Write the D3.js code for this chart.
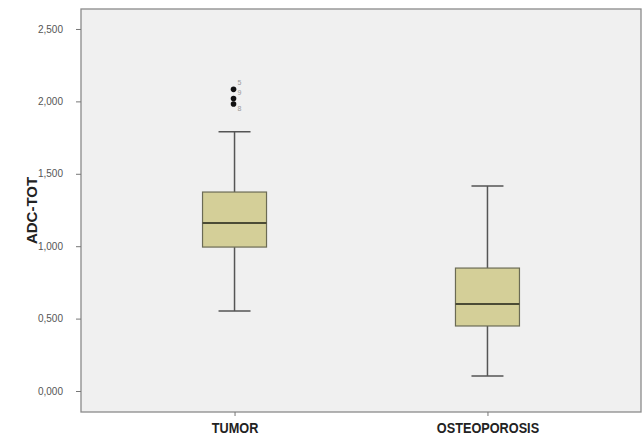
<!DOCTYPE html>
<html>
<head>
<meta charset="utf-8">
<script src="https://cdn.jsdelivr.net/npm/d3@7"></script>
<style>
  body { margin: 0; background: #fff; }
  svg { display: block; }
</style>
</head>
<body>
<svg id="chart" width="642" height="437"></svg>
<script>
// groups and box stats
const groups = ["TUMOR", "OSTEOPOROSIS"];
const lowWhisker = [0.552, 0.104];
const q1 = [0.994, 0.449];
const medians = [1.160, 0.601];
const q3 = [1.374, 0.849];
const highWhisker = [1.790, 1.416];
// outliers of the TUMOR group, with case labels
const outlierValues = [2.083, 2.020, 1.982];
const outlierLabels = ["5", "9", "8"];
const outlierGroup = ["TUMOR", "TUMOR", "TUMOR"];
const yTicks = [0, 0.5, 1.0, 1.5, 2.0, 2.5];

const svg = d3.select("#chart");
const margin = {top: 9, right: 1, bottom: 25, left: 81};
const W = 642, H = 437;

const x = d3.scalePoint()
  .domain(groups)
  .range([margin.left, W - margin.right])
  .padding(0.607);

const y = d3.scaleLinear()
  .domain([-0.145, 2.638])
  .range([H - margin.bottom, margin.top]);

const fmt = v => d3.format(".3f")(v).replace(".", ",");

// plot background
svg.append("rect")
  .attr("x", margin.left).attr("y", margin.top)
  .attr("width", W - margin.right - margin.left)
  .attr("height", H - margin.bottom - margin.top)
  .attr("fill", "#f0f0f0")
  .attr("stroke", "#8a8a8a")
  .attr("stroke-width", 1.3);

// y axis
const yAxis = svg.append("g")
  .attr("transform", `translate(${margin.left},0)`)
  .call(d3.axisLeft(y).tickValues(yTicks).tickFormat(fmt).tickSize(5).tickPadding(13));
yAxis.select(".domain").remove();
yAxis.selectAll(".tick line").attr("stroke", "#777");
yAxis.selectAll("text")
  .attr("font-family", "'Liberation Sans', Arial, sans-serif")
  .attr("font-size", 10)
  .attr("fill", "#555");

// x axis
const xAxis = svg.append("g")
  .attr("transform", `translate(0,${H - margin.bottom})`)
  .call(d3.axisBottom(x).tickSize(4).tickPadding(6));
xAxis.select(".domain").remove();
xAxis.selectAll(".tick line").attr("stroke", "#777");
xAxis.selectAll("text")
  .attr("font-family", "'Liberation Sans Narrow', 'Arial Narrow', 'Liberation Sans', sans-serif")
  .attr("font-weight", "bold")
  .attr("font-size", 15.5)
  .attr("transform", "scale(0.82,1)")
  .attr("fill", "#222");

// y title
svg.append("text")
  .attr("transform", `translate(37,${(margin.top + H - margin.bottom) / 2}) rotate(-90)`)
  .attr("text-anchor", "middle")
  .attr("font-family", "'Liberation Sans', Arial, sans-serif")
  .attr("font-weight", "bold")
  .attr("font-size", 15)
  .attr("fill", "#222")
  .text("ADC-TOT");

const boxW = 64, capW = 32;
const boxes = svg.append("g").selectAll("g")
  .data(groups)
  .join("g");

// whiskers
boxes.append("line")
  .attr("x1", d => x(d)).attr("x2", d => x(d))
  .attr("y1", (d, i) => y(highWhisker[i])).attr("y2", (d, i) => y(q3[i]))
  .attr("stroke", "#555").attr("stroke-width", 1.5);
boxes.append("line")
  .attr("x1", d => x(d)).attr("x2", d => x(d))
  .attr("y1", (d, i) => y(q1[i])).attr("y2", (d, i) => y(lowWhisker[i]))
  .attr("stroke", "#555").attr("stroke-width", 1.5);
// caps
boxes.append("line")
  .attr("x1", d => x(d) - capW / 2).attr("x2", d => x(d) + capW / 2)
  .attr("y1", (d, i) => y(highWhisker[i])).attr("y2", (d, i) => y(highWhisker[i]))
  .attr("stroke", "#555").attr("stroke-width", 1.5);
boxes.append("line")
  .attr("x1", d => x(d) - capW / 2).attr("x2", d => x(d) + capW / 2)
  .attr("y1", (d, i) => y(lowWhisker[i])).attr("y2", (d, i) => y(lowWhisker[i]))
  .attr("stroke", "#555").attr("stroke-width", 1.5);
// box
boxes.append("rect")
  .attr("x", d => x(d) - boxW / 2)
  .attr("y", (d, i) => y(q3[i]))
  .attr("width", boxW)
  .attr("height", (d, i) => y(q1[i]) - y(q3[i]))
  .attr("fill", "#d4cf98")
  .attr("stroke", "#6b6b55")
  .attr("stroke-width", 1.2);
// median
boxes.append("line")
  .attr("x1", d => x(d) - boxW / 2).attr("x2", d => x(d) + boxW / 2)
  .attr("y1", (d, i) => y(medians[i])).attr("y2", (d, i) => y(medians[i]))
  .attr("stroke", "#4b4b35").attr("stroke-width", 2);

// outliers
const labelShift = [-7, -6, 5];
svg.append("g").selectAll("circle")
  .data(outlierValues)
  .join("circle")
  .attr("cx", (d, i) => x(outlierGroup[i]) - 1)
  .attr("cy", d => y(d))
  .attr("r", 2.8)
  .attr("fill", "#111");
svg.append("g").selectAll("text")
  .data(outlierValues)
  .join("text")
  .attr("x", (d, i) => x(outlierGroup[i]) + 5)
  .attr("y", (d, i) => y(d) + labelShift[i] + 2.5)
  .attr("text-anchor", "middle")
  .attr("font-family", "'Liberation Sans', Arial, sans-serif")
  .attr("font-size", 7)
  .attr("fill", "#999")
  .text((d, i) => outlierLabels[i]);
</script>
</body>
</html>
